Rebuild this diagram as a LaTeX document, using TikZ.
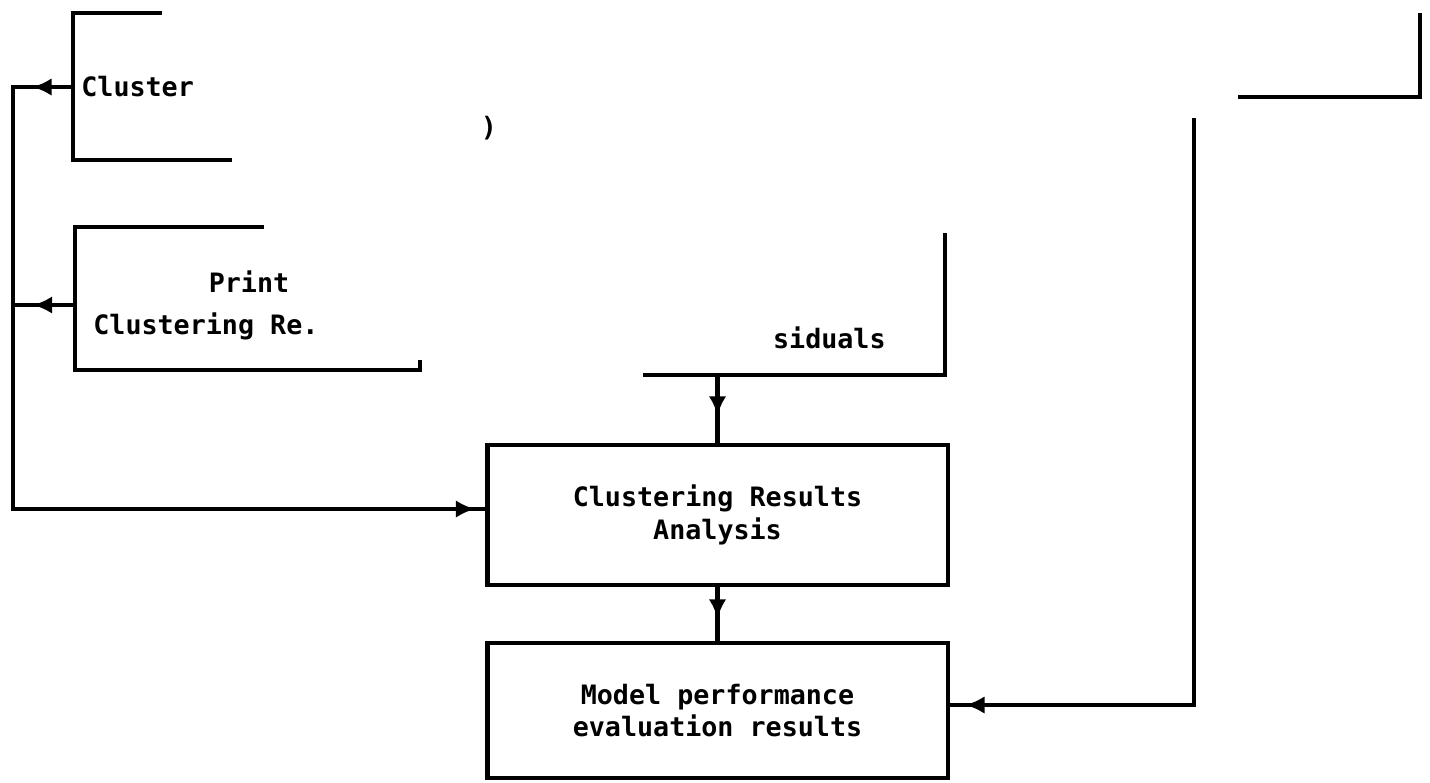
\documentclass[tikz,border=0pt]{standalone}
\usepackage{fontspec}
\setmonofont{DejaVu Sans Mono}
\usetikzlibrary{arrows.meta,decorations.markings}
\tikzset{
  ln/.style={line width=2.8pt, line cap=rect},
  box/.style={draw, ln, rectangle, inner sep=0pt, outer sep=0pt, minimum width=9.22cm, align=center, font=\ttfamily\bfseries\fontsize{15.2}{18.5}\selectfont},
  lbl/.style={inner sep=0pt, font=\ttfamily\bfseries\fontsize{15.2}{18.5}\selectfont},
  tip/.style={decoration={markings, mark=at position #1 with {\arrow{Latex[length=11pt,width=10pt]}}}, postaction={decorate}}
}
\begin{document}
\begin{tikzpicture}[x=0.02cm,y=-0.02cm]
\useasboundingbox (0,0) rectangle (1430,782);
% complete boxes
\node[box, minimum height=2.8cm] (cra) at (717.5,515) {Clustering Results\\Analysis};
\node[box, minimum height=2.7cm] (mpe) at (717.5,710.5) {Model performance\\evaluation results};
% partial boxes (faded scan)
\coordinate (b1) at (73,87);
\coordinate (b2) at (75,305);
\coordinate (res) at (717.5,375);
\draw[ln] (160,13) -- (73,13) -- (73,160) -- (230,160);
\draw[ln] (262,227) -- (75,227) -- (75,370) -- (420,370) -- (420,362);
\draw[ln] (645,375) -- (945,375) -- (945,235);
\draw[ln] (1240,97) -- (1420,97) -- (1420,15);
% texts
\node[lbl, anchor=west] (t1) at (81,87) {Cluster};
\node[lbl] (t2) at (249,282) {Print};
\node[lbl, anchor=west] (t3) at (93,326) {Clustering Re.};
\node[lbl, anchor=east] (t4) at (886,338) {siduals};
\node[lbl] (t5) at (489,128) {)};
% connectors
\coordinate (l1) at (13,87);
\coordinate (l2) at (13,305);
\coordinate (l3) at (13,509);
\coordinate (r1) at (1194,120);
\coordinate (r2) at (1194,705);
\draw[ln, tip=0.68] (b1) -- (l1);
\draw[ln, tip=0.68] (b2) -- (l2);
\draw[ln] (l1) -- (l3);
\draw[ln, tip=0.975] (l3) -- (l3 -| cra.west);
\draw[ln, tip=0.58] (res) -- (cra.north);
\draw[ln, tip=0.58] (cra.south) -- (mpe.north);
\draw[ln] (r1) -- (r2);
\draw[ln, tip=0.93] (r2) -- (r2 -| mpe.east);
\end{tikzpicture}
\end{document}
